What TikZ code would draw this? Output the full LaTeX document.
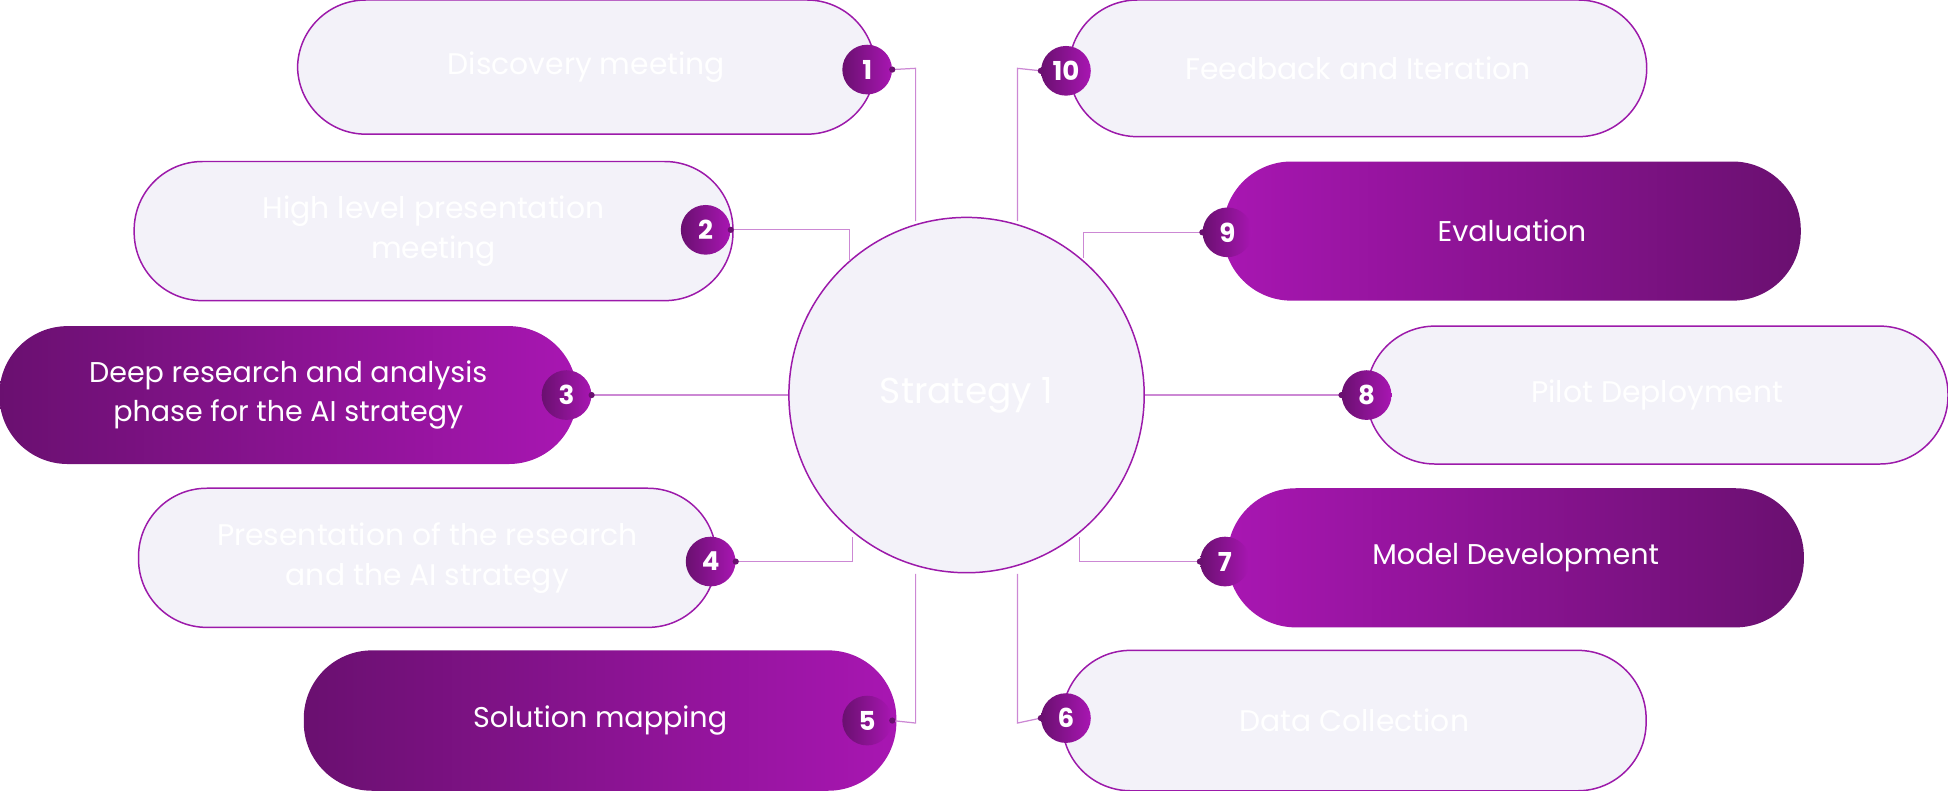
\documentclass[tikz,border=0pt]{standalone}
\usepackage{fontspec}
\setmainfont{Poppins}
\usetikzlibrary{calc}
\definecolor{pdark}{HTML}{6A1070}
\definecolor{pbright}{HTML}{A816B2}
\definecolor{pline}{HTML}{9C1AAA}
\definecolor{conn}{HTML}{CC88D4}
\definecolor{lightfill}{HTML}{F3F2F9}
\tikzset{
  lightbox/.style={draw=pline, line width=1.2pt, fill=lightfill, rounded corners=55pt, text=white, align=center, font=\fontsize{24}{32}\selectfont},
  darkbox/.style={rounded corners=55pt, text=white, align=center, font=\fontsize{23}{32}\selectfont},
  badge/.style={circle, minimum size=40pt, inner sep=0pt, left color=pdark, right color=pbright, text=white, font=\fontsize{21}{24}\selectfont\bfseries},
  conline/.style={draw=conn, line width=1pt},
  cdot/.style={circle, fill=pdark, inner sep=0pt, minimum size=5pt}
}
\begin{document}
\begin{tikzpicture}[x=1pt,y=-1pt]
\useasboundingbox (0,0) rectangle (1568,636);
% center
\node[circle, draw=pline, line width=1.2pt, fill=lightfill, minimum size=286pt, text=white, font=\fontsize{29}{32}\selectfont] (c) at (778,318) {Strategy 1};
% boxes: left
\node[lightbox, minimum width=465pt, minimum height=108pt] (b1) at (472,54) {Discovery meeting};
\node[lightbox, minimum width=482pt, minimum height=112pt] (b2) at (349,186) {High level presentation\\meeting};
\node[darkbox, left color=pdark, right color=pbright, minimum width=465pt, minimum height=111pt] (b3) at (232,318) {Deep research and analysis\\phase for the AI strategy};
\node[lightbox, minimum width=465pt, minimum height=112pt] (b4) at (344,449) {Presentation of the research\\and the AI strategy};
\node[darkbox, left color=pdark, right color=pbright, minimum width=477pt, minimum height=113pt] (b5) at (483,580) {Solution mapping};
% boxes: right
\node[lightbox, minimum width=465pt, minimum height=110pt] (b10) at (1093,55) {Feedback and Iteration};
\node[darkbox, left color=pbright, right color=pdark, minimum width=465pt, minimum height=112pt] (b9) at (1217,186) {Evaluation};
\node[lightbox, minimum width=468pt, minimum height=111pt] (b8) at (1334,318) {Pilot Deployment};
\node[darkbox, left color=pbright, right color=pdark, minimum width=464pt, minimum height=112pt] (b7) at (1220,449) {Model Development};
\node[lightbox, minimum width=470pt, minimum height=113pt] (b6) at (1090,580) {Data Collection};
% connector endpoints
\coordinate (e1) at (737,55); \coordinate (t1) at (737,178);
\coordinate (e2) at (684,185); \coordinate (t2) at (684,210);
\coordinate (e4) at (686,452); \coordinate (t4) at (686,432);
\coordinate (e5) at (737,582); \coordinate (t5) at (737,462);
\coordinate (e10) at (819,55); \coordinate (t10) at (819,178);
\coordinate (e9) at (872,187); \coordinate (t9) at (872,208);
\coordinate (e7) at (869,452); \coordinate (t7) at (869,432);
\coordinate (e6) at (819,582); \coordinate (t6) at (819,462);
% badges
\node[badge] (n1) at (698,56) {1};
\node[badge] (n2) at (568,185) {2};
\node[badge] (n3) at (456,318) {3};
\node[badge] (n4) at (572,452) {4};
\node[badge] (n5) at (698,580) {5};
\node[badge] (n10) at (858,57) {10};
\node[badge] (n9) at (988,187) {9};
\node[badge] (n8) at (1100,318) {8};
\node[badge] (n7) at (986,452) {7};
\node[badge] (n6) at (858,578) {6};
% connectors
\begin{scope}[on background layer/.style={}]
\draw[conline] (n1.east) -- (e1) -- (t1);
\draw[conline] (n2.east) -- (e2) -- (t2);
\draw[conline] (n3.east) -- (c.west);
\draw[conline] (n4.east) -- (e4) -- (t4);
\draw[conline] (n5.east) -- (e5) -- (t5);
\draw[conline] (n10.west) -- (e10) -- (t10);
\draw[conline] (n9.west) -- (e9) -- (t9);
\draw[conline] (c.east) -- (n8.west);
\draw[conline] (n7.west) -- (e7) -- (t7);
\draw[conline] (n6.west) -- (e6) -- (t6);
\end{scope}
\foreach \n/\a in {n1/east,n2/east,n3/east,n4/east,n5/east,n10/west,n9/west,n8/west,n7/west,n6/west}
  \node[cdot] at (\n.\a) {};
\end{tikzpicture}
\end{document}
